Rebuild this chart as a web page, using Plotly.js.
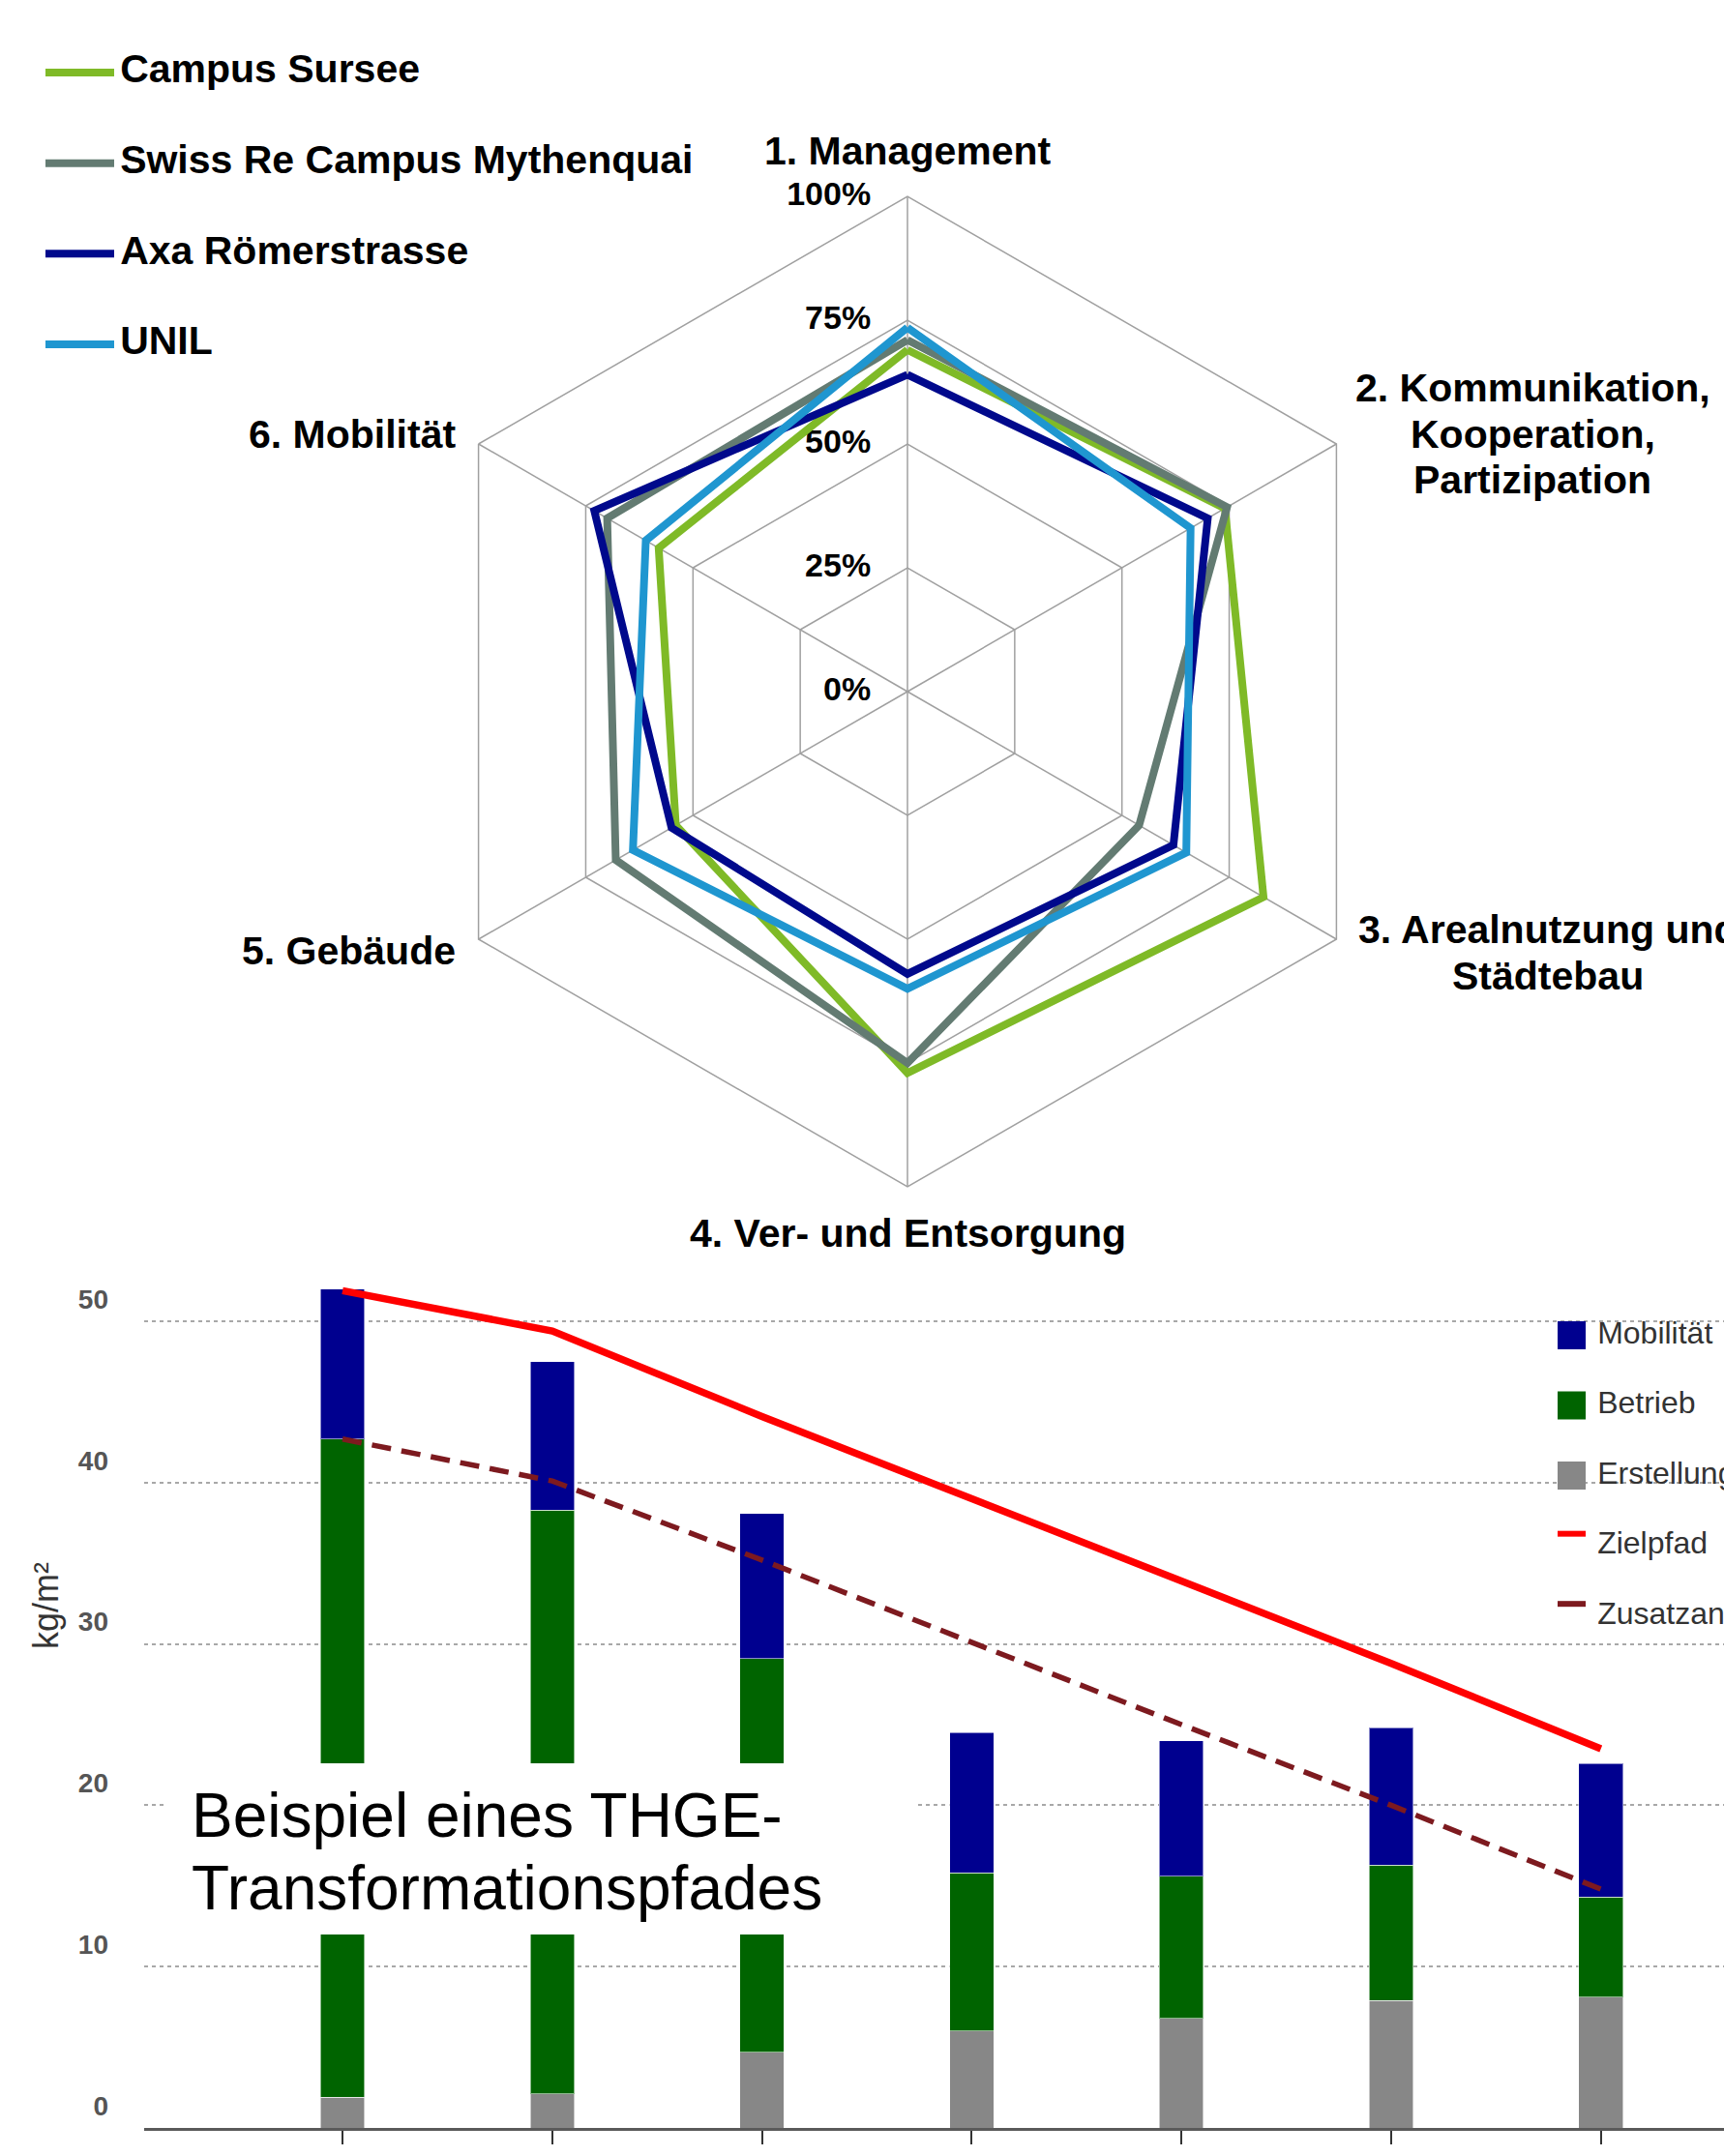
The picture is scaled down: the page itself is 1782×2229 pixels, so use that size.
<!DOCTYPE html>
<html>
<head>
<meta charset="utf-8">
<script src="https://cdn.plot.ly/plotly-3.0.1.min.js"></script>
<style>
html, body { margin: 0; padding: 0; background: #ffffff; }
#chart { width: 1782px; height: 2229px; }
</style>
</head>
<body>
<div id="chart"></div>
<script>
// ---------------- Radar chart data ----------------
const radarCategories = [
  '1. Management',
  '2. Kommunikation,\nKooperation,\nPartizipation',
  '3. Arealnutzung und\nStädtebau',
  '4. Ver- und Entsorgung',
  '5. Gebäude',
  '6. Mobilität'
];
const radarSeries = ['Campus Sursee', 'Swiss Re Campus Mythenquai', 'Axa Römerstrasse', 'UNIL'];
const campusSursee     = [69, 74, 83, 77, 54, 58];
const swissRe          = [71, 74.5, 54, 75, 68, 70];
const axaRoemerstrasse = [64, 70, 62, 57, 55, 73];
const unil             = [73.5, 66, 65, 60, 64, 61];
const radialTicks      = [0, 25, 50, 75, 100];
const radialTickLabels = ['0%', '25%', '50%', '75%', '100%'];

// ---------------- Bar chart data ----------------
const years             = ['2017', '2019', '2023', '2027', '2031', '2035', '2039'];
const erstellung        = [1.9, 2.1, 4.7, 6.0, 6.8, 7.9, 8.1];
const betrieb           = [40.8, 36.2, 24.4, 9.8, 8.8, 8.4, 6.2];
const mobilitaet        = [9.3, 9.2, 9.0, 8.7, 8.4, 8.5, 8.3];
const zielpfad          = [51.9, 49.4, 44.1, 39.0, 33.9, 28.8, 23.5];
const zusatzanforderung = [42.7, 40.1, 35.2, 30.1, 25.0, 20.0, 14.8];
const yTicks            = [0, 10, 20, 30, 40, 50];
const barLegendNames    = ['Mobilität', 'Betrieb', 'Erstellung', 'Zielpfad', 'Zusatzanforderungen'];
const overlayLines      = ['Beispiel eines THGE-', 'Transformationspfades'];

// ---------------- Styling / layout helpers ----------------
const W = 1782, H = 2229;
const F = 'Liberation Sans, Arial, sans-serif';
const px = x => x / W;
const py = y => 1 - y / H;

const radarColors = ['#7fba27', '#637b72', '#00098c', '#1f96d0'];
const radarValues = [campusSursee, swissRe, axaRoemerstrasse, unil];
const barColors = { mob: '#00008f', bet: '#006400', ers: '#878787', ziel: '#ff0000', zus: '#7d1a1f' };

// radar plot area (square) in pixels
const polarBox = { x0: 426, x1: 1450, y0: 203, y1: 1227 };

const closeLoop = a => a.concat([a[0]]);
const traces = [];

// radar series
radarSeries.forEach((name, i) => {
  traces.push({
    type: 'scatterpolar', subplot: 'polar',
    r: closeLoop(radarValues[i]), theta: closeLoop(radarCategories),
    mode: 'lines', name: name,
    line: { color: radarColors[i], width: 8 },
    showlegend: false, hoverinfo: 'skip'
  });
});

// radial tick labels (overlay cartesian axes sharing the radar's square, range = +/- radial max)
traces.push({
  type: 'scatter', xaxis: 'x4', yaxis: 'y4',
  x: radialTicks.map(() => 0), y: radialTicks,
  mode: 'markers+text', text: radialTickLabels, textposition: 'middle left',
  marker: { size: 59, color: 'rgba(0,0,0,0)', opacity: 1 },
  textfont: { family: F, size: 34, weight: 'bold', color: '#000' },
  cliponaxis: false, showlegend: false, hoverinfo: 'skip'
});

// radar legend: line symbols + names
traces.push({
  type: 'scatter', xaxis: 'x2', yaxis: 'y2',
  x: radarSeries.map(() => 0), y: radarSeries.map((_, i) => i),
  mode: 'markers',
  marker: { symbol: 'line-ew', size: 50.7, opacity: 1, color: radarColors, line: { color: radarColors, width: 8 } },
  cliponaxis: false, showlegend: false, hoverinfo: 'skip'
});
traces.push({
  type: 'scatter', xaxis: 'x2', yaxis: 'y2',
  x: radarSeries.map(() => 0), y: radarSeries.map((_, i) => i),
  mode: 'markers+text', text: radarSeries, textposition: 'middle right',
  marker: { size: 65, color: 'rgba(0,0,0,0)' },
  textfont: { family: F, size: 41, weight: 'bold', color: '#000' },
  cliponaxis: false, showlegend: false, hoverinfo: 'skip'
});

// stacked bars
const barLine = { width: 1, color: 'rgba(255,255,255,0.55)' };
traces.push({ type: 'bar', x: years, y: erstellung, name: 'Erstellung', width: 0.21,
  marker: { color: barColors.ers, line: barLine }, showlegend: false, hoverinfo: 'skip' });
traces.push({ type: 'bar', x: years, y: betrieb, name: 'Betrieb', width: 0.21,
  marker: { color: barColors.bet, line: barLine }, showlegend: false, hoverinfo: 'skip' });
traces.push({ type: 'bar', x: years, y: mobilitaet, name: 'Mobilität', width: 0.21,
  marker: { color: barColors.mob, line: barLine }, showlegend: false, hoverinfo: 'skip' });

// path lines
traces.push({ type: 'scatter', x: years, y: zusatzanforderung, mode: 'lines', name: 'Zusatzanforderungen',
  line: { color: barColors.zus, width: 5.5, dash: '20px,11px' }, showlegend: false, hoverinfo: 'skip', cliponaxis: true });
traces.push({ type: 'scatter', x: years, y: zielpfad, mode: 'lines', name: 'Zielpfad',
  line: { color: barColors.ziel, width: 7.5 }, showlegend: false, hoverinfo: 'skip', cliponaxis: true });

// bar chart legend: symbols + names
const legCols = [barColors.mob, barColors.bet, barColors.ers, barColors.ziel, barColors.zus];
const legIsLine = [false, false, false, true, true];
traces.push({
  type: 'scatter', xaxis: 'x3', yaxis: 'y3',
  x: barLegendNames.map(() => 0), y: barLegendNames.map((_, i) => legIsLine[i] ? i - 0.17 : i),
  mode: 'markers',
  marker: {
    symbol: legIsLine.map(l => l ? 'line-ew' : 'square'),
    size: legIsLine.map(l => l ? 20.7 : 29), color: legCols, opacity: 1,
    line: { color: legCols, width: legIsLine.map(l => l ? 6 : 0) }
  },
  cliponaxis: false, showlegend: false, hoverinfo: 'skip'
});
traces.push({
  type: 'scatter', xaxis: 'x3', yaxis: 'y3',
  x: barLegendNames.map(() => 0), y: barLegendNames.map((_, i) => i),
  mode: 'markers+text', text: barLegendNames, textposition: 'middle right',
  marker: { size: 41, color: 'rgba(0,0,0,0)' },
  textfont: { family: F, size: 32, color: '#333' },
  cliponaxis: false, showlegend: false, hoverinfo: 'skip'
});

// ---------------- Annotations ----------------
const annotations = [];
const labelSpecs = [
  { x: 938, y: 156, anchor: 'center' },
  { x: 1584, y: 401, anchor: 'center' },
  { x: 1600, y: 961, anchor: 'center' },
  { x: 938, y: 1275, anchor: 'center' },
  { x: 473, y: 983, anchor: 'right' },
  { x: 473, y: 449, anchor: 'right' }
];
radarCategories.forEach((cat, i) => {
  const spec = labelSpecs[i];
  cat.split('\n').forEach((line, j) => {
    annotations.push({
      xref: 'paper', yref: 'paper', x: px(spec.x), y: py(spec.y + j * 47.6),
      xanchor: spec.anchor, yanchor: 'middle', text: line, showarrow: false,
      font: { family: F, size: 41, weight: 'bold', color: '#000' }
    });
  });
});
overlayLines.forEach((line, j) => {
  annotations.push({
    xref: 'paper', yref: 'paper', x: px(196), y: py(1877 + j * 75),
    xanchor: 'left', yanchor: 'middle', text: line, showarrow: false,
    font: { family: F, size: 64, color: '#000' }
  });
});
annotations.push({
  xref: 'paper', yref: 'paper', x: px(47), y: py(1660), xanchor: 'center', yanchor: 'middle',
  text: 'kg/m²', textangle: -90,
  showarrow: false, font: { family: F, size: 36, color: '#333' }
});

const rMax = radialTicks[radialTicks.length - 1];
const layout = {
  width: W, height: H,
  margin: { l: 0, r: 0, t: 0, b: 0 },
  paper_bgcolor: '#ffffff', plot_bgcolor: 'rgba(0,0,0,0)',
  showlegend: false,
  font: { family: F },
  barmode: 'stack',
  polar: {
    domain: { x: [px(polarBox.x0), px(polarBox.x1)], y: [py(polarBox.y1), py(polarBox.y0)] },
    gridshape: 'linear', bgcolor: 'rgba(0,0,0,0)',
    angularaxis: {
      type: 'category', categoryarray: radarCategories,
      direction: 'clockwise', rotation: 90,
      showticklabels: false, ticks: '',
      showgrid: true, gridcolor: '#a0a0a0', gridwidth: 1.5,
      showline: true, linecolor: '#a0a0a0', linewidth: 1.5
    },
    radialaxis: {
      range: [0, rMax], tickvals: [25, 50, 75], showticklabels: false, ticks: '',
      showline: false, gridcolor: '#a0a0a0', gridwidth: 1.5, angle: 90
    }
  },
  xaxis: {
    domain: [px(149), 1], range: [-0.946, 6.587], type: 'category',
    showgrid: false, zeroline: false,
    showline: true, linecolor: '#5a5a5a', linewidth: 3,
    ticks: 'outside', ticklen: 14, tickwidth: 2, tickcolor: '#333',
    tickfont: { family: F, size: 30, color: '#333' }
  },
  yaxis: {
    domain: [py(2200), py(1320)], range: [0, 52.76],
    tickvals: yTicks, showgrid: true, gridcolor: '#a8a8a8', gridwidth: 2, griddash: '4px,4px',
    zeroline: false, showline: false, ticks: '',
    tickfont: { family: F, size: 28, color: '#555', weight: 'bold' },
    ticklabelstandoff: 36, ticklabelshift: -23
  },
  xaxis2: { domain: [0, px(165)], range: [-1, 1], visible: false, fixedrange: true },
  yaxis2: { domain: [py(402.8), py(28.2)], range: [3.5, -0.5], visible: false, fixedrange: true },
  xaxis3: { domain: [px(1600), px(1649)], range: [-1, 1], visible: false, fixedrange: true },
  yaxis3: { domain: [py(1706.75), py(1344.25)], range: [4.5, -0.5], visible: false, fixedrange: true },
  xaxis4: { domain: [px(polarBox.x0), px(polarBox.x1)], range: [-rMax, rMax], visible: false, fixedrange: true },
  yaxis4: { domain: [py(polarBox.y1), py(polarBox.y0)], range: [-rMax, rMax], visible: false, fixedrange: true },
  shapes: [{
    type: 'rect', xref: 'paper', yref: 'paper',
    x0: px(173), x1: px(945), y0: py(2000), y1: py(1823),
    fillcolor: '#ffffff', line: { width: 0 }, layer: 'above'
  }],
  annotations: annotations
};

Plotly.newPlot('chart', traces, layout, { staticPlot: true, displayModeBar: false });
</script>
</body>
</html>
